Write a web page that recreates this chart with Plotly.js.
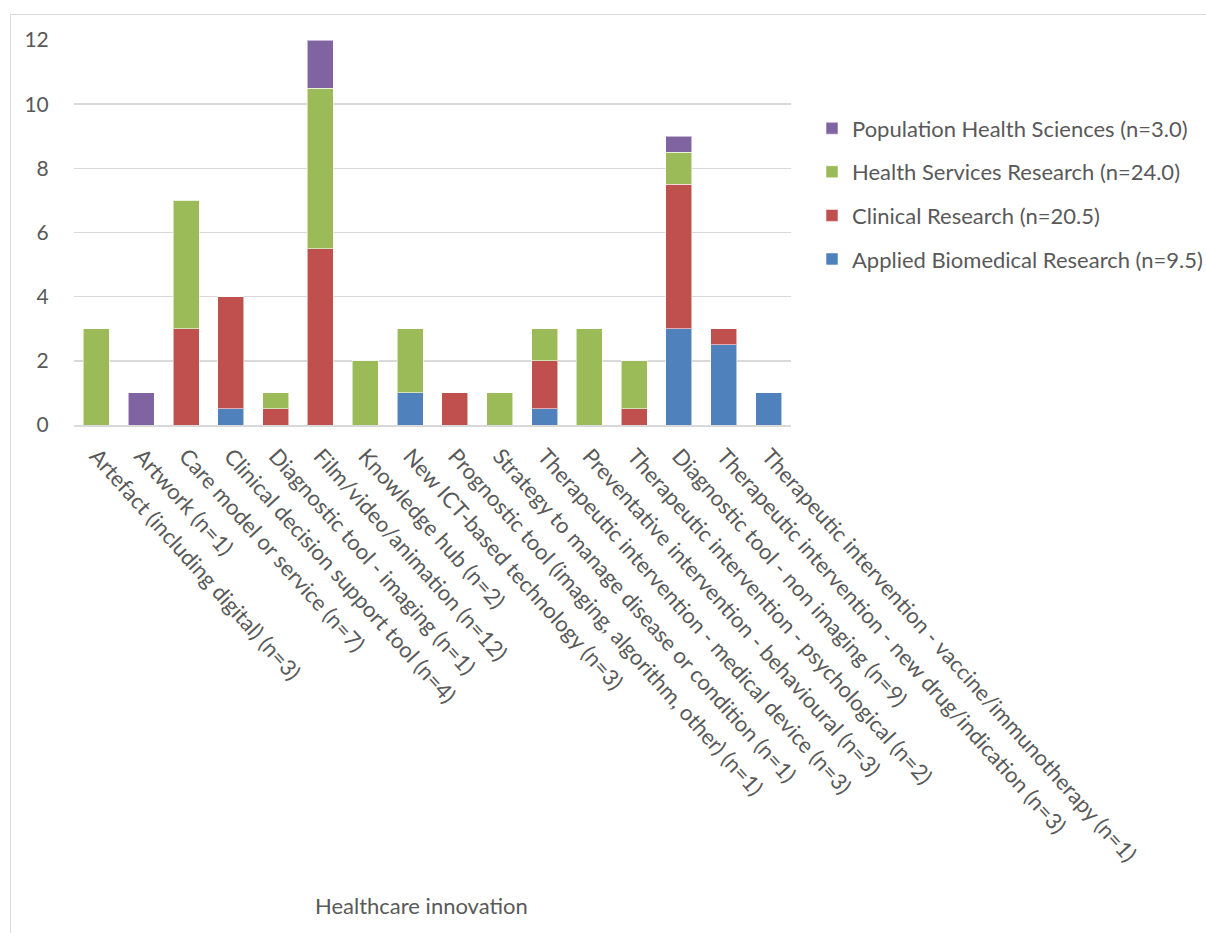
<!DOCTYPE html>
<html>
<head>
<meta charset="utf-8">
<script src="https://cdn.plot.ly/plotly-3.0.1.min.js"></script>
<style>
  html, body { margin: 0; padding: 0; background: #fff; }
  #frame { position: absolute; left: 10px; top: 14px; width: 1200px; height: 930px; border: 1px solid #d9d9d9; box-sizing: border-box; }
  #chart { position: absolute; left: 0; top: 0; width: 1206px; height: 933px; }
</style>
</head>
<body>
<div id="frame"></div>
<div id="chart"></div>
<script>
const categories = [
  "Artefact (including digital) (n=3)",
  "Artwork (n=1)",
  "Care model or service (n=7)",
  "Clinical decision support tool (n=4)",
  "Diagnostic tool - imaging (n=1)",
  "Film/video/animation (n=12)",
  "Knowledge hub (n=2)",
  "New ICT-based technology (n=3)",
  "Prognostic tool (imaging, algorithm, other) (n=1)",
  "Strategy to manage disease or condition (n=1)",
  "Therapeutic intervention - medical device (n=3)",
  "Preventative intervention - behavioural (n=3)",
  "Therapeutic intervention - psychological (n=2)",
  "Diagnostic tool - non imaging (n=9)",
  "Therapeutic intervention - new drug/indication (n=3)",
  "Therapeutic intervention - vaccine/immunotherapy (n=1)"
];
const appliedBiomedical = [0, 0, 0, 0.5, 0, 0, 0, 1, 0, 0, 0.5, 0, 0, 3, 2.5, 1];
const clinical          = [0, 0, 3, 3.5, 0.5, 5.5, 0, 0, 1, 0, 1.5, 0, 0.5, 4.5, 0.5, 0];
const healthServices    = [3, 0, 4, 0, 0.5, 5, 2, 2, 0, 1, 1, 3, 1.5, 1, 0, 0];
const populationHealth  = [0, 1, 0, 0, 0, 1.5, 0, 0, 0, 0, 0, 0, 0, 0.5, 0, 0];
const seriesNames = [
  "Applied Biomedical Research (n=9.5)",
  "Clinical Research (n=20.5)",
  "Health Services Research (n=24.0)",
  "Population Health Sciences (n=3.0)"
];
const seriesColors = ["#4f81bd", "#c0504d", "#9bbb59", "#8064a2"];
const yTicks = [0, 2, 4, 6, 8, 10, 12];

const values = [appliedBiomedical, clinical, healthServices, populationHealth];
const traces = values.map((v, i) => ({
  type: 'bar',
  x: categories,
  y: v,
  name: seriesNames[i],
  legendgroup: 'g' + i,
  legendrank: values.length - i,
  marker: { color: seriesColors[i], line: { color: 'rgba(255,255,255,0.55)', width: 1 } },
  hoverinfo: 'x+y+name'
}));

const font = "Lato, 'Open Sans', 'Noto Sans', sans-serif";
const layout = {
  width: 1206, height: 933,
  paper_bgcolor: 'rgba(0,0,0,0)', plot_bgcolor: 'rgba(0,0,0,0)',
  barmode: 'stack',
  bargap: 0.42,
  margin: { l: 74, r: 415, t: 40, b: 508, autoexpand: false },
  font: { family: font, color: '#595959', size: 22 },
  xaxis: {
    type: 'category',
    tickangle: 48,
    tickfont: { size: 22, color: '#595959' },
    showgrid: false,
    showline: true, linecolor: '#d9d9d9', linewidth: 1.5,
    ticks: 'outside', ticklen: 8, tickcolor: 'rgba(0,0,0,0)',
    automargin: false
  },
  yaxis: {
    range: [0, 12],
    tickvals: yTicks,
    ticktext: yTicks.map(String),
    tickfont: { size: 21, color: '#595959' },
    showgrid: true, gridcolor: '#d9d9d9', gridwidth: 1.5,
    zeroline: false, showline: false,
    ticks: 'outside', ticklen: 20, tickcolor: 'rgba(0,0,0,0)',
    automargin: false
  },
  legend: {
    xref: 'container', x: 812 / 1206, xanchor: 'left',
    y: 0.825, yanchor: 'top',
    traceorder: 'grouped',
    tracegroupgap: 12,
    font: { size: 22, color: '#595959' },
    bgcolor: 'rgba(0,0,0,0)'
  },
  annotations: [{
    text: 'Healthcare innovation',
    xref: 'paper', yref: 'paper',
    x: (421 - 74) / 717, y: (425 - 905) / 385,
    xanchor: 'center', yanchor: 'middle',
    showarrow: false,
    font: { size: 22, color: '#595959' }
  }],
  showlegend: true
};

Plotly.newPlot('chart', traces, layout, { displayModeBar: false, staticPlot: true });
</script>
</body>
</html>
